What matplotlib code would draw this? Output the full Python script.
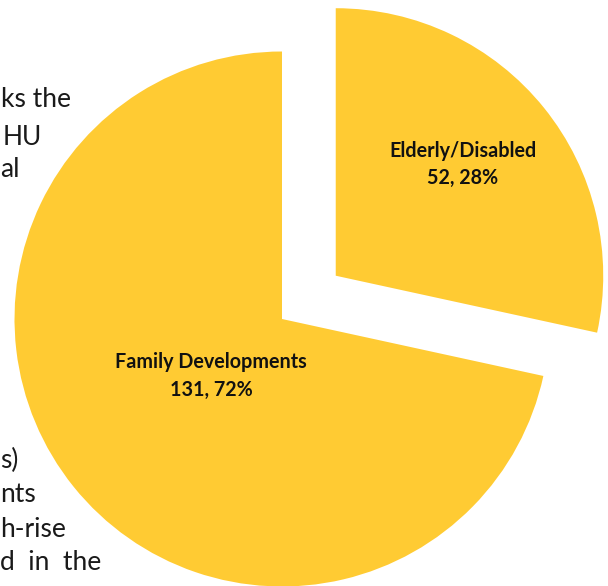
import numpy as np
import matplotlib
matplotlib.use("Agg")
import matplotlib.pyplot as plt

# Units by development type
categories = ["Elderly/Disabled", "Family Developments"]
counts = [52, 131]

# Fragments of the neighbouring paragraph (left edge px, baseline px from top)
side_text = ["ks the", "HU", "al", "s)", "nts", "h-rise", "d  in  the"]
side_left = [1, 3, 0, 0, 0, 0, 0]
side_base = [107, 145, 177, 468, 502, 537, 570]

W, H = 608, 586
fig = plt.figure(figsize=(W / 100, H / 100), dpi=100)
ax = fig.add_axes([0, 0, 1, 1])

gold = "#FFCB33"
radius = 267.5
center = (282, H - 319)

wedges, _ = ax.pie(
    counts,
    startangle=90,
    counterclock=False,
    explode=[69, 0],
    radius=radius,
    center=center,
    colors=[gold, gold],
    wedgeprops=dict(linewidth=0),
)
for w in wedges:
    w.set_zorder(3)

ax.set_xlim(0, W)
ax.set_ylim(0, H)
ax.set_aspect("auto")
ax.axis("off")

# paragraph fragments behind the pie
for t, xl, yb in zip(side_text, side_left, side_base):
    ax.text(xl, H - yb, t, ha="left", va="baseline", fontsize=19,
            family="Lato", color="#1a1a1a", zorder=1)

# slice labels placed near each wedge's mid-angle
total = sum(counts)
label_frac = [0.632, 0.34]
label_turn = [2.3, 0.0]
for w, name, n, f, dt in zip(wedges, categories, counts, label_frac, label_turn):
    mid = np.deg2rad(0.5 * (w.theta1 + w.theta2) + dt)
    cx, cy = w.center
    x = cx + f * w.r * np.cos(mid)
    y = cy + f * w.r * np.sin(mid)
    pct = round(100 * n / total)
    ax.text(x, y, f"{name}\n{n}, {pct}%", ha="center", va="center",
            fontsize=14.2, fontweight="bold", family="Lato",
            color="#111111", linespacing=1.45, zorder=5)

fig.savefig("out.png", dpi=100)
